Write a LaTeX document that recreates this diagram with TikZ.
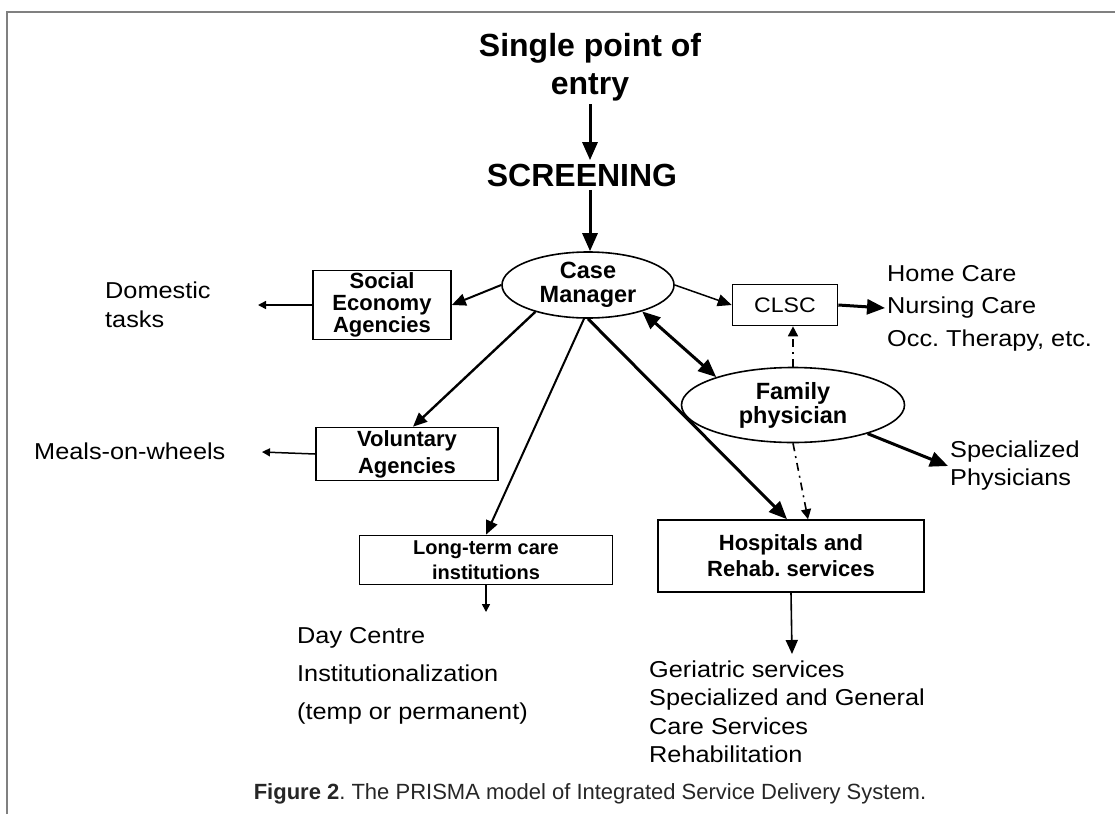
\documentclass[tikz,border=0pt]{standalone}
\usepackage{fontspec}
\setmainfont{Liberation Sans}
\newfontfamily\labelfont{Liberation Sans}[FakeStretch=1.1]
\usetikzlibrary{arrows.meta,shapes.geometric}
\frenchspacing

\begin{document}
\begin{tikzpicture}[x=1pt, y=-1pt,
  block/.style={draw, line width=1.6pt, inner sep=0pt, align=center, font=\bfseries\fontsize{22}{22}\selectfont},
  oval/.style={draw, ellipse, line width=1.6pt, inner sep=0pt, align=center, font=\bfseries\fontsize{23.5}{24}\selectfont},
  title/.style={align=center, font=\bfseries\fontsize{32}{38}\selectfont},
  label/.style={align=left, anchor=west, inner sep=2pt},
  arr/.style={-{Triangle[length=18pt, width=15pt]}, line width=3pt},
  midarr/.style={-{Triangle[length=14pt, width=12pt]}, line width=2pt},
  smallarr/.style={-{Triangle[length=8pt, width=8pt]}, line width=1.5pt},
  dasharr/.style={-{Triangle[length=10pt, width=10pt]}, line width=1.6pt, dash pattern=on 8pt off 5pt on 2pt off 5pt}]

  \useasboundingbox (0,0) rectangle (1115,814);
  \draw[gray, line width=2pt] (7,814) -- (7,12) -- (1115,12);

  % Top
  \node[title] (entry) at (590,67) {Single point of\\entry};
  \node[title] (screen) at (582,175) {SCREENING};

  % Centre
  \node[oval, minimum width=172pt, minimum height=66pt] (cm) at (588,285) {Case\\Manager};
  \node[oval, minimum width=223pt, minimum height=75pt] (fp) at (793,405) {Family\\physician};

  % Boxes
  \node[block, minimum width=138pt, minimum height=69pt] (social) at (382,305) {Social\\Economy\\Agencies};
  \node[block, minimum width=105pt, minimum height=41pt, font=\labelfont\fontsize{21}{22}\selectfont] (clsc) at (785,305) {CLSC};
  \node[block, minimum width=182pt, minimum height=53pt, font=\bfseries\fontsize{22}{27}\selectfont] (volunt) at (407,454) {Voluntary\\Agencies};
  \node[block, minimum width=253pt, minimum height=49pt, font=\bfseries\fontsize{20}{25}\selectfont] (ltc) at (486,560) {Long-term care\\institutions};
  \node[block, minimum width=266pt, minimum height=72pt, font=\bfseries\fontsize{22}{26}\selectfont] (hosp) at (791,556) {Hospitals and\\Rehab. services};

  % Labels
  \node[label, font=\labelfont\fontsize{23}{29}\selectfont] (domestic) at (103,305) {Domestic\\tasks};
  \node[label, font=\labelfont\fontsize{23}{32.5}\selectfont] (home) at (885,308) {Home Care\\Nursing Care\\Occ. Therapy, etc.};
  \node[label, font=\labelfont\fontsize{23}{28}\selectfont] (spec) at (948,466) {Specialized\\Physicians};
  \node[label, font=\labelfont\fontsize{23}{28}\selectfont] (meals) at (32,451) {Meals-on-wheels};
  \node[label, font=\labelfont\fontsize{23}{38}\selectfont] (day) at (295,676) {Day Centre\\Institutionalization\\(temp or permanent)};
  \node[label, font=\labelfont\fontsize{23}{28.5}\selectfont] (geri) at (647,712) {Geriatric services\\Specialized and General\\Care Services\\Rehabilitation};
  \node[font=\fontsize{22}{26}\selectfont, text=black!85] (caption) at (590,794) {\textbf{Figure 2}. The PRISMA model of Integrated Service Delivery System.};

  % Free ends
  \coordinate (dom-end) at (258,305);
  \coordinate (meals-end) at (262,452);
  \coordinate (ltc-end) at (486,612);
  \coordinate (hosp-end) at (792,654);

  % Arrows
  \draw[arr] (entry.south -| 590,0) -- (screen.north -| 590,0);
  \draw[arr] (screen.south -| 590,0) -- (cm.north -| 590,0);
  \draw[midarr] (cm.west) -- (social.east);
  \draw[smallarr] (social.west) -- (dom-end);
  \draw[midarr, line width=1.5pt] (cm.east) -- (clsc.west);
  \draw[arr] (clsc.east) -- (home.west);
  \draw[{Triangle[length=18pt, width=15pt]}-{Triangle[length=18pt, width=15pt]}, line width=3pt] (cm.-26) -- (fp.160);
  \draw[dasharr] (fp.north) -- (fp.north |- clsc.south);
  \draw[arr] (fp.-21) -- (spec.west);
  \draw[dasharr] (fp.south) -- ([xshift=17pt]hosp.north);
  \draw[arr] (cm.south) -- ([xshift=-4pt]hosp.north);
  \draw[midarr, line width=2.4pt] (cm.-153) -- ([xshift=6pt]volunt.north);
  \draw[smallarr] (volunt.west) -- (meals-end);
  \draw[midarr] ([xshift=-4pt]cm.south) -- (ltc.north);
  \draw[smallarr] (ltc.south) -- (ltc-end);
  \draw[midarr, line width=1.6pt] (hosp.south) -- (hosp-end);

\end{tikzpicture}
\end{document}
